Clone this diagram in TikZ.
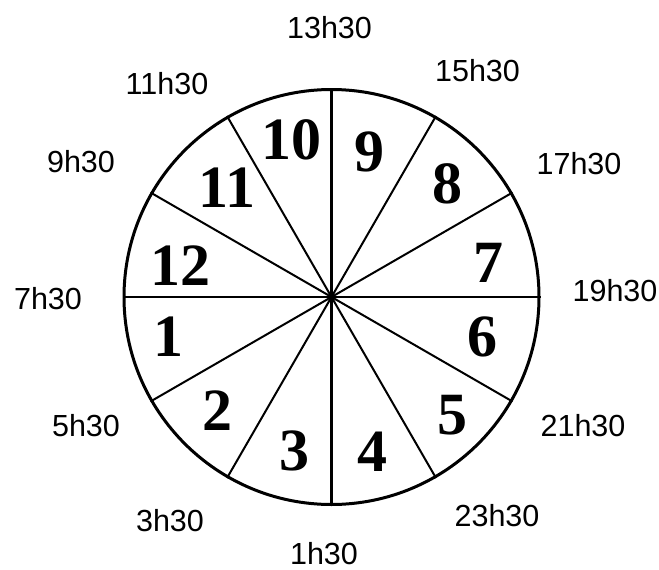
\documentclass[tikz,border=0pt]{standalone}
\usepackage{fontspec}
\setmainfont{Liberation Sans}
\newfontfamily\numfont{Liberation Serif}
\begin{document}
\begin{tikzpicture}[x=1pt,y=-1pt,
  seg/.style={font=\numfont\bfseries\fontsize{60}{61}\selectfont, inner sep=0pt},
  hour/.style={font=\fontsize{30.5}{31}\selectfont, inner sep=0pt},
  spoke/.style={line width=2pt},
  rim/.style={draw, circle, line width=3pt, minimum size=415pt, inner sep=0pt}]
\useasboundingbox (0,0) rectangle (659,570);
\node[rim] (c) at (331.5,297) {};
\draw[line width=2.6pt] (c.0) -- (c.180);
\draw[line width=2.6pt] (c.90) -- (c.270);
\foreach \a in {30,60,120,150}{
  \pgfmathtruncatemacro{\b}{\a+180}
  \draw[spoke] (c.\a) -- (c.\b);
}
% segment numbers
\node[seg] (n10) at (291.5,140) {10};
\node[seg] (n9) at (369,152) {9};
\node[seg] (n8) at (447,184) {8};
\node[seg] (n11) at (227,188) {11};
\node[seg] (n7) at (488,263) {7};
\node[seg] (n12) at (180,266) {12};
\node[seg] (n1) at (168,337) {1};
\node[seg] (n6) at (482,337) {6};
\node[seg] (n2) at (217,411) {2};
\node[seg] (n5) at (452,415) {5};
\node[seg] (n3) at (294,451) {3};
\node[seg] (n4) at (372,452) {4};
% hour labels
\node[hour] (h13) at (329.5,27.5) {13h30};
\node[hour] (h15) at (477.5,71) {15h30};
\node[hour] (h17) at (579,164) {17h30};
\node[hour] (h19) at (615,291) {19h30};
\node[hour] (h21) at (583,426) {21h30};
\node[hour] (h23) at (497,516) {23h30};
\node[hour] (h1) at (324,554) {1h30};
\node[hour] (h3) at (170,521) {3h30};
\node[hour] (h5) at (86,426) {5h30};
\node[hour] (h7) at (48,299) {7h30};
\node[hour] (h9) at (81,162) {9h30};
\node[hour] (h11) at (167,84) {11h30};
\end{tikzpicture}
\end{document}
